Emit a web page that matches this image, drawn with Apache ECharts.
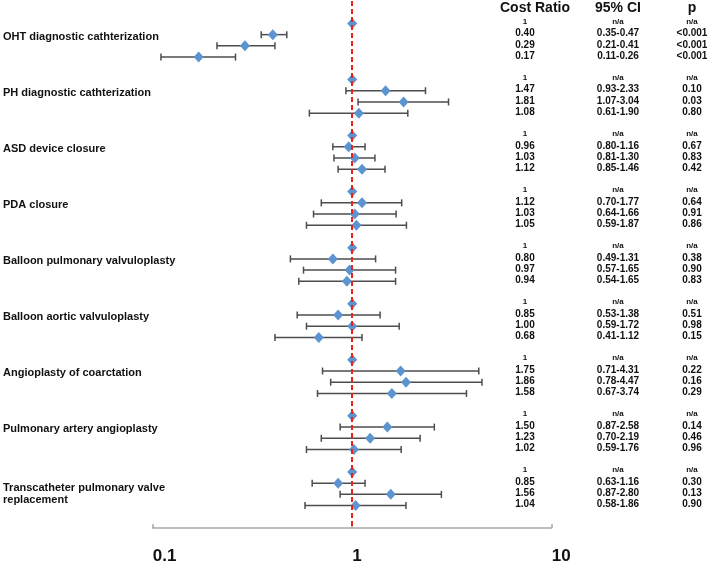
<!DOCTYPE html>
<html>
<head>
<meta charset="utf-8">
<script src="https://cdn.jsdelivr.net/npm/echarts@6/dist/echarts.min.js"></script>
<style>
html,body{margin:0;padding:0;background:#fff;}
#chart{width:709px;height:566px;}
</style>
</head>
<body>
<div id="chart"></div>
<script>
// ---- DATA ----
const groups = [
  'OHT diagnostic cathterization',
  'PH diagnostic cathterization',
  'ASD device closure',
  'PDA closure',
  'Balloon pulmonary valvuloplasty',
  'Balloon aortic valvuloplasty',
  'Angioplasty of coarctation',
  'Pulmonary artery angioplasty',
  'Transcatheter pulmonary valve\nreplacement'
];
const ratios = [
  [0.40, 0.29, 0.17],
  [1.47, 1.81, 1.08],
  [0.96, 1.03, 1.12],
  [1.12, 1.03, 1.05],
  [0.80, 0.97, 0.94],
  [0.85, 1.00, 0.68],
  [1.75, 1.86, 1.58],
  [1.50, 1.23, 1.02],
  [0.85, 1.56, 1.04]
];
const ciLow = [
  [0.35, 0.21, 0.11],
  [0.93, 1.07, 0.61],
  [0.80, 0.81, 0.85],
  [0.70, 0.64, 0.59],
  [0.49, 0.57, 0.54],
  [0.53, 0.59, 0.41],
  [0.71, 0.78, 0.67],
  [0.87, 0.70, 0.59],
  [0.63, 0.87, 0.58]
];
const ciHigh = [
  [0.47, 0.41, 0.26],
  [2.33, 3.04, 1.90],
  [1.16, 1.30, 1.46],
  [1.77, 1.66, 1.87],
  [1.31, 1.65, 1.65],
  [1.38, 1.72, 1.12],
  [4.31, 4.47, 3.74],
  [2.58, 2.19, 1.76],
  [1.16, 2.80, 1.86]
];
const pValues = [
  ['<0.001', '<0.001', '<0.001'],
  ['0.10', '0.03', '0.80'],
  ['0.67', '0.83', '0.42'],
  ['0.64', '0.91', '0.86'],
  ['0.38', '0.90', '0.83'],
  ['0.51', '0.98', '0.15'],
  ['0.22', '0.16', '0.29'],
  ['0.14', '0.46', '0.96'],
  ['0.30', '0.13', '0.90']
];
const referenceValue = 1;
const xTicks = [0.1, 1, 10];
const headers = ['Cost Ratio', '95% CI', 'p'];

// ---- BUILD ----
const ROWS_PER_GROUP = 5;
const FONT = '"Liberation Sans", Arial, Helvetica, sans-serif';
const rowOf = (g, r) => g * ROWS_PER_GROUP + r;

const pointData = [];
const barData = [];
const tableRows = [];
groups.forEach((name, g) => {
  pointData.push([referenceValue, rowOf(g, 0)]);
  tableRows.push({row: rowOf(g, 0), ref: true, cells: ['1', 'n/a', 'n/a']});
  ratios[g].forEach((v, i) => {
    const row = rowOf(g, i + 1);
    pointData.push([v, row]);
    barData.push([ciLow[g][i], ciHigh[g][i], row]);
    tableRows.push({row: row, ref: false,
      cells: [v.toFixed(2), ciLow[g][i].toFixed(2) + '-' + ciHigh[g][i].toFixed(2), pValues[g][i]]});
  });
});
const labelRows = groups.map((name, g) => ({row: rowOf(g, 1), text: name}));

const colX = [525, 618, 692];
const headerX = [535, 618, 692];

const chart = echarts.init(document.getElementById('chart'));
chart.setOption({
  animation: false,
  backgroundColor: '#fff',
  grid: {left: 152.7, right: 157.3, top: 1, bottom: 38},
  xAxis: {
    type: 'log', logBase: 10, min: 0.1, max: 10, position: 'bottom',
    axisLine: {show: true, onZero: false, lineStyle: {color: '#a8a8a8', width: 1.5}},
    axisTick: {show: true, inside: true, length: 4, lineStyle: {color: '#a8a8a8', width: 1.5}},
    splitLine: {show: false},
    minorTick: {show: false},
    axisLabel: {
      fontSize: 17, fontWeight: 'bold', color: '#111', fontFamily: FONT,
      align: 'left', margin: 20,
      formatter: v => { const t = xTicks.find(x => Math.abs(x - v) < 1e-9); return t === undefined ? '' : String(t); }
    }
  },
  yAxis: {type: 'value', inverse: true, min: -2, max: 45, show: false},
  graphic: headers.map((h, i) => ({
    type: 'text', x: headerX[i], y: 8,
    style: {text: h, fontSize: 14, fontWeight: 'bold', fill: '#111', fontFamily: FONT,
      textAlign: 'center', textVerticalAlign: 'middle'}
  })),
  series: [
    {
      type: 'custom', z: 2, clip: false,
      encode: {x: [0, 1], y: 2},
      data: barData,
      renderItem: function (params, api) {
        const lo = api.coord([api.value(0), api.value(2)]);
        const hi = api.coord([api.value(1), api.value(2)]);
        const h = 3.5;
        const st = {stroke: '#4d4d4d', lineWidth: 1.5};
        return {type: 'group', children: [
          {type: 'line', shape: {x1: lo[0], y1: lo[1], x2: hi[0], y2: hi[1]}, style: st},
          {type: 'line', shape: {x1: lo[0], y1: lo[1] - h, x2: lo[0], y2: lo[1] + h}, style: st},
          {type: 'line', shape: {x1: hi[0], y1: hi[1] - h, x2: hi[0], y2: hi[1] + h}, style: st}
        ]};
      }
    },
    {
      type: 'line', z: 3, data: [], silent: true,
      markLine: {
        silent: true, symbol: 'none', label: {show: false},
        lineStyle: {color: '#e8231f', type: [5, 3], width: 2},
        data: [{xAxis: referenceValue}]
      }
    },
    {
      type: 'scatter', z: 4, symbol: 'diamond', symbolSize: [10, 11],
      itemStyle: {color: '#5b94cf', opacity: 1},
      data: pointData
    },
    {
      type: 'custom', z: 5, clip: false, silent: true,
      data: tableRows.map(r => [1, r.row]),
      encode: {x: 0, y: 1},
      renderItem: function (params, api) {
        const r = tableRows[params.dataIndex];
        const y = api.coord([1, r.row])[1] + (r.ref ? -2 : -1);
        return {type: 'group', children: r.cells.map((t, i) => ({
          type: 'text',
          style: {x: colX[i], y: y, text: t, fill: '#111', fontFamily: FONT, fontWeight: 'bold',
            fontSize: r.ref ? 8 : 10, textAlign: 'center', textVerticalAlign: 'middle'}
        }))};
      }
    },
    {
      type: 'custom', z: 5, clip: false, silent: true,
      data: labelRows.map(r => [1, r.row]),
      encode: {x: 0, y: 1},
      renderItem: function (params, api) {
        const r = labelRows[params.dataIndex];
        const y = api.coord([1, r.row])[1];
        const multi = r.text.indexOf('\n') >= 0;
        return {type: 'text', style: {
          x: 3, y: multi ? y - 1 : y + 2, text: r.text, fill: '#111', fontFamily: FONT, fontWeight: 'bold',
          fontSize: 11, lineHeight: 12, textAlign: 'left', textVerticalAlign: multi ? 'top' : 'middle'
        }};
      }
    }
  ]
});
</script>
</body>
</html>
